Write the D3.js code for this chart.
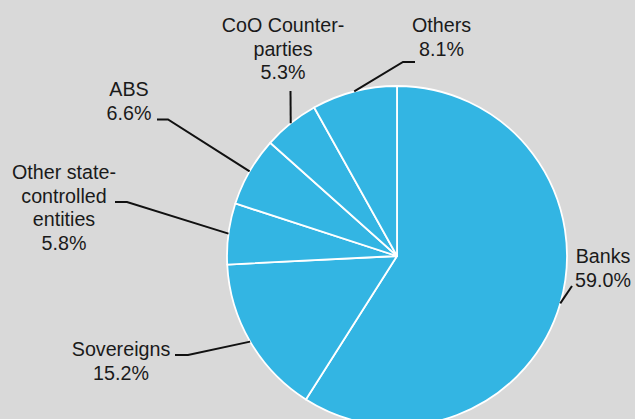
<!DOCTYPE html>
<html>
<head>
<meta charset="utf-8">
<script src="https://cdn.jsdelivr.net/npm/d3@7"></script>
<style>
  html, body { margin: 0; padding: 0; background: #d9d9d9; }
  svg { display: block; }
  text { font-family: "Liberation Sans", Arial, sans-serif; font-size: 19.7px; fill: #1a1a1a; }
</style>
</head>
<body>
<svg id="chart" width="635" height="419"></svg>
<script>
// Data
const categories = ["Banks", "Sovereigns", "Other state-controlled entities", "ABS", "CoO Counterparties", "Others"];
const shares = [59.0, 15.2, 5.8, 6.6, 5.3, 8.1];
const labelLines = [
  ["Banks", "59.0%"],
  ["Sovereigns", "15.2%"],
  ["Other state-", "controlled", "entities", "5.8%"],
  ["ABS", "6.6%"],
  ["CoO Counter-", "parties", "5.3%"],
  ["Others", "8.1%"]
];

// Layout of labels (anchor x, first baseline y, leader elbow, leader end)
const labelLayout = [
  { x: 603, y: 263, elbow: null, end: [572, 286] },
  { x: 121, y: 356, elbow: [188, 355], end: [175, 355] },
  { x: 64, y: 179, elbow: [127, 202], end: [115, 202] },
  { x: 129, y: 96, elbow: [168, 119.5], end: [157, 119.5] },
  { x: 283, y: 32, elbow: null, end: [290.5, 91] },
  { x: 441.5, y: 32, elbow: [403, 62], end: [415, 62] }
];

const width = 635, height = 419;
const cx = 397, cy = 256, radius = 170;
const lineH = 23.5;

const svg = d3.select("#chart");
const g = svg.append("g").attr("transform", `translate(${cx},${cy})`);

const pie = d3.pie().sort(null).value(d => d.value);
const data = categories.map((c, i) => ({ name: c, value: shares[i], idx: i }));
const arcs = pie(data);

const arc = d3.arc().innerRadius(0).outerRadius(radius);
const edgeArc = d3.arc().innerRadius(radius).outerRadius(radius);

g.selectAll("path.slice")
  .data(arcs)
  .join("path")
  .attr("class", "slice")
  .attr("d", arc)
  .attr("fill", "#33b5e3")
  .attr("stroke", "#ffffff")
  .attr("stroke-width", 1.8)
  .attr("stroke-linejoin", "round");

// Leader lines
const line = d3.line();
svg.selectAll("path.leader")
  .data(arcs)
  .join("path")
  .attr("class", "leader")
  .attr("d", d => {
    const lay = labelLayout[d.data.idx];
    const mid = (d.startAngle + d.endAngle) / 2;
    const p0 = [cx + radius * Math.sin(mid), cy - radius * Math.cos(mid)];
    const pts = [p0];
    if (lay.elbow) pts.push(lay.elbow);
    pts.push(lay.end);
    return line(pts);
  })
  .attr("fill", "none")
  .attr("stroke", "#111")
  .attr("stroke-width", 2);

// Labels
svg.selectAll("text.lbl")
  .data(arcs)
  .join("text")
  .attr("class", "lbl")
  .attr("text-anchor", "middle")
  .each(function(d) {
    const lay = labelLayout[d.data.idx];
    const t = d3.select(this);
    labelLines[d.data.idx].forEach((ln, k) => {
      t.append("tspan")
        .attr("x", lay.x)
        .attr("y", lay.y + k * lineH)
        .text(ln);
    });
  });
</script>
</body>
</html>
